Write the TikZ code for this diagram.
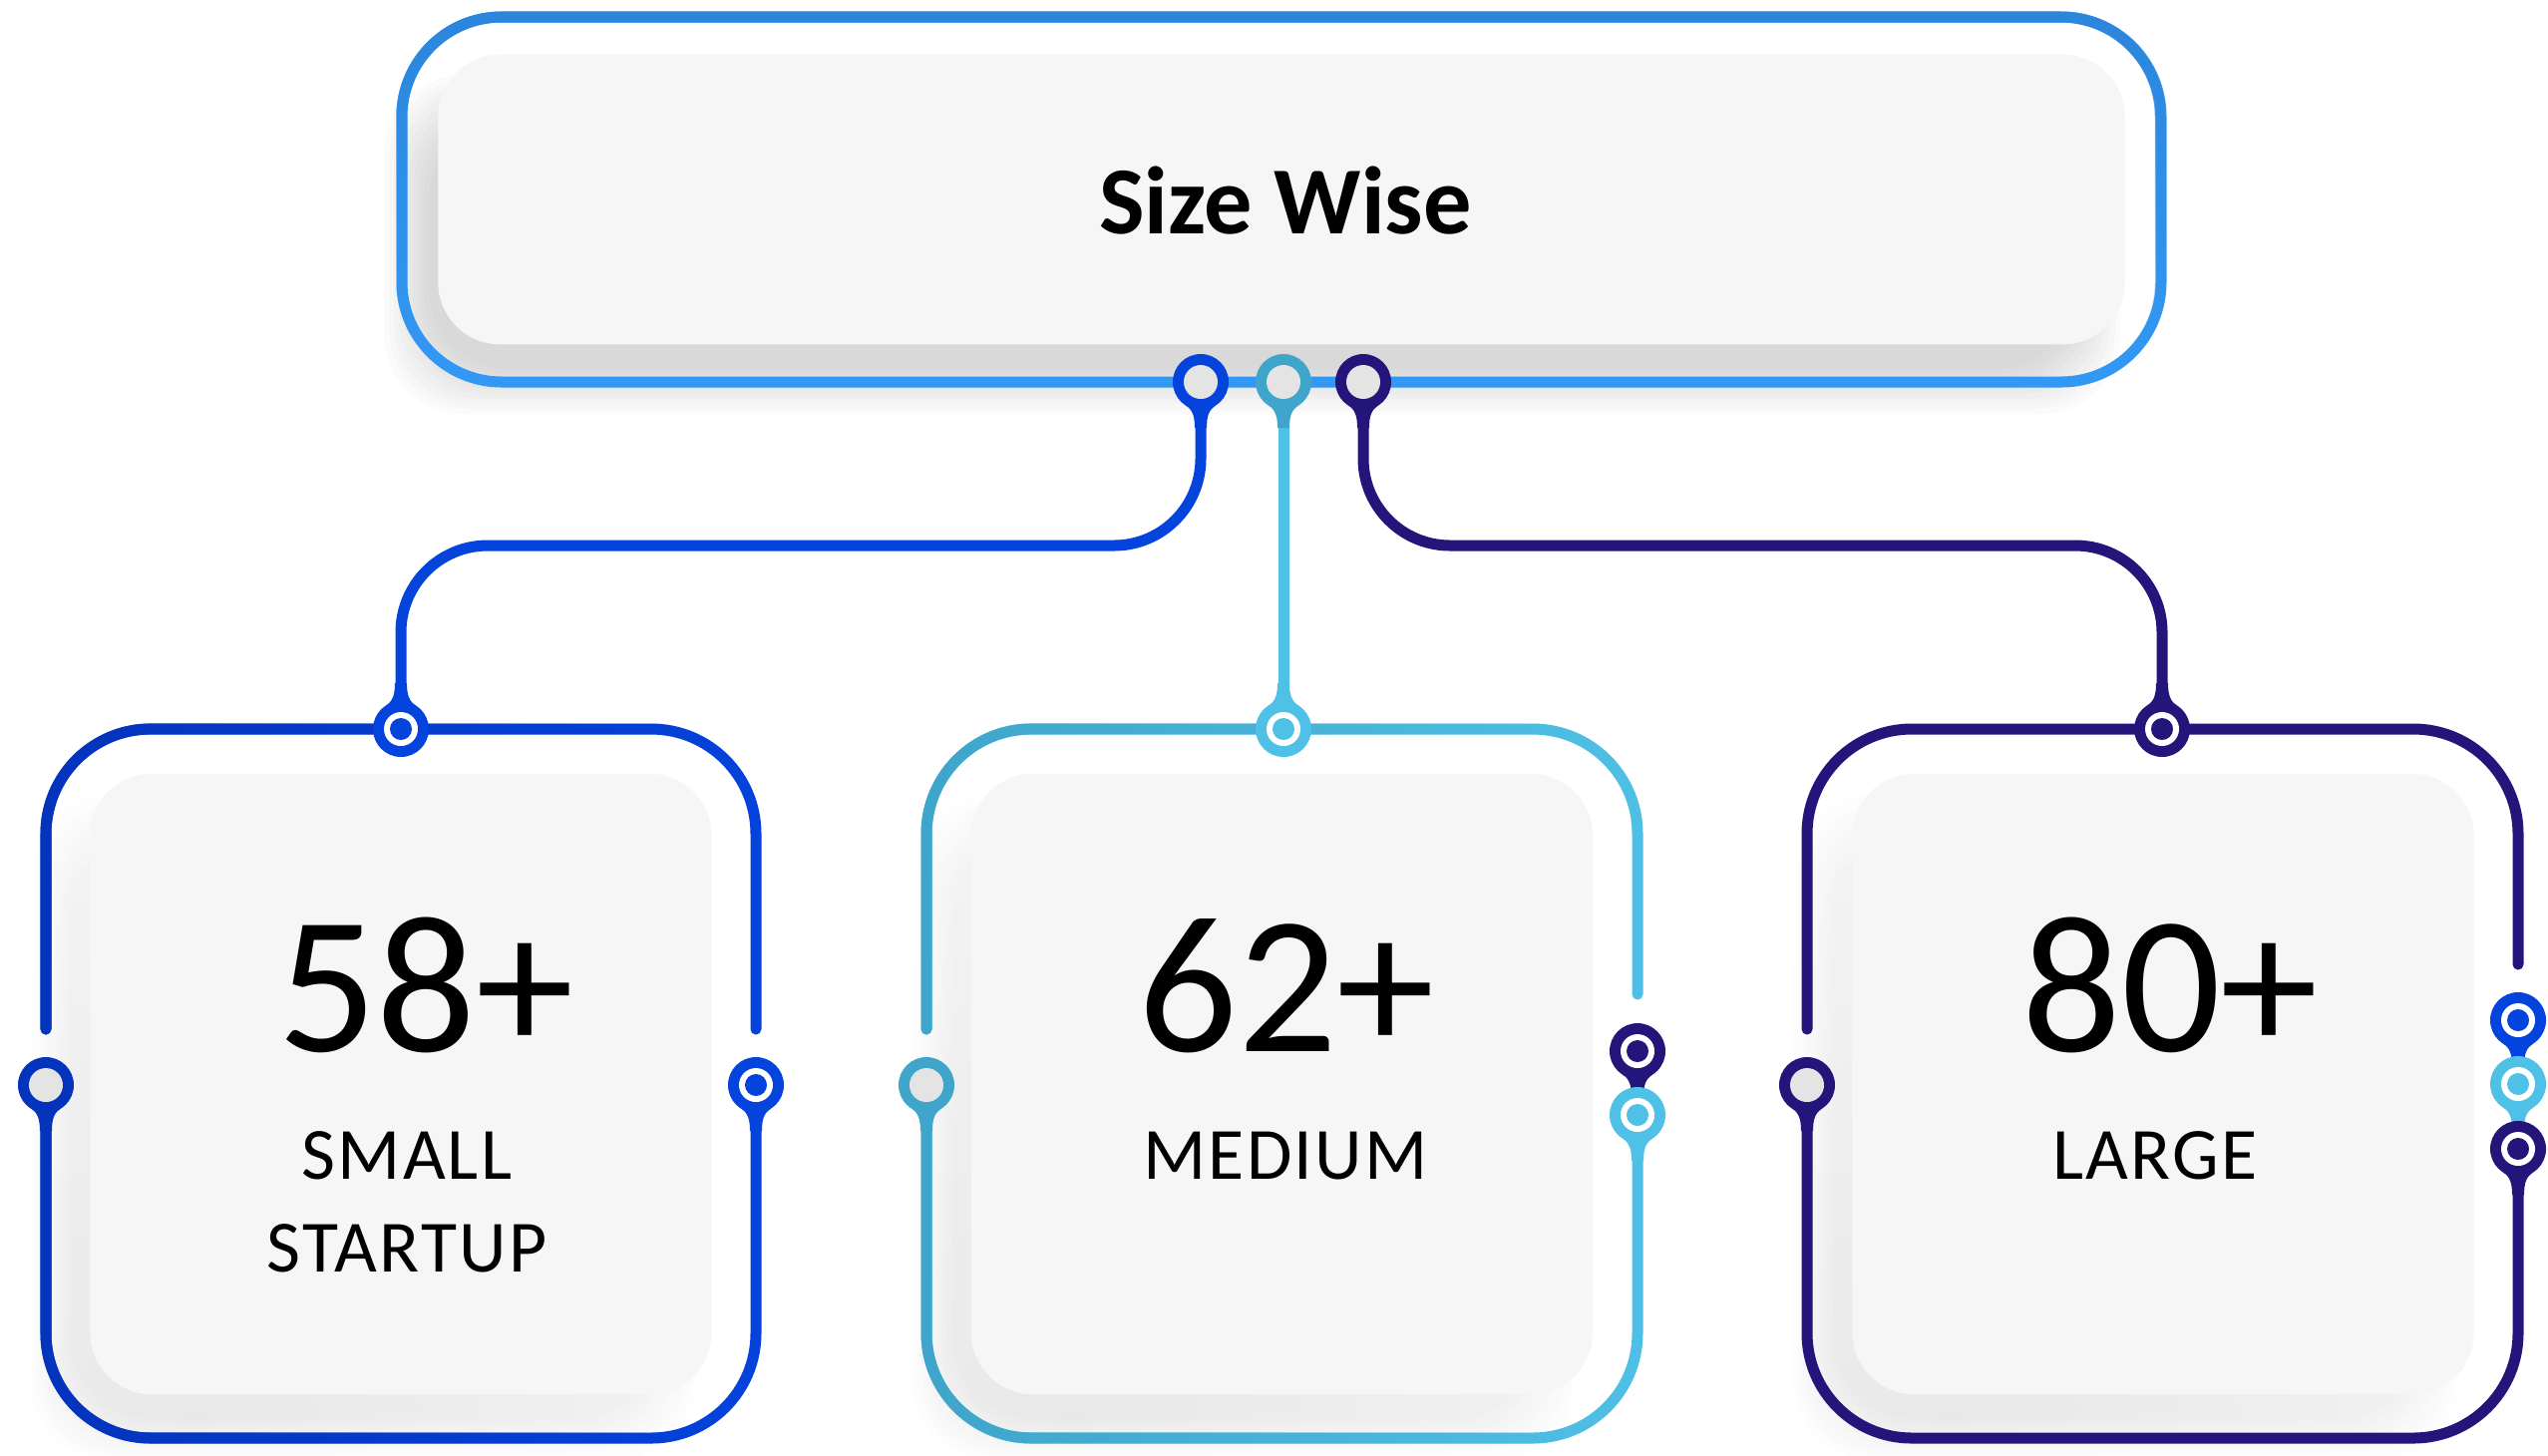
\documentclass[tikz,border=0pt]{standalone}
\usepackage{fontspec}
\setmainfont{Carlito}
\usetikzlibrary{fadings}

\definecolor{topblue}{HTML}{3399F5}
\definecolor{topblueD}{HTML}{2C86DC}
\definecolor{cblue}{HTML}{0443DC}
\definecolor{cblueD}{HTML}{0434BC}
\definecolor{clight}{HTML}{4FC0E6}
\definecolor{clightD}{HTML}{40A5CB}
\definecolor{cdark}{HTML}{23157A}
\definecolor{cardgray}{HTML}{F6F6F6}
\definecolor{holegray}{HTML}{E4E4E4}

\tikzfading[name=fadeleft, left color=transparent!0, right color=transparent!100]
\tikzfading[name=fadeup, top color=transparent!0, bottom color=transparent!100]

\tikzset{
  frame/.style={line width=0.11cm, line cap=round, rounded corners=1.05cm},
  conn/.style={line width=0.11cm, rounded corners=0.87cm},
  card/.style={fill=cardgray, rounded corners=0.62cm, minimum width=6.23cm, minimum height=6.22cm, inner sep=0pt},
  headcard/.style={fill=cardgray, rounded corners=0.62cm, minimum width=16.9cm, minimum height=2.9cm, inner sep=0pt},
  bignum/.style={inner sep=0pt, anchor=base, font=\fontsize{56pt}{60pt}\selectfont},
  cattxt/.style={inner sep=0pt, anchor=base, font=\fontsize{21pt}{25pt}\selectfont\addfontfeature{LetterSpace=3}},
  headtxt/.style={inner sep=0pt, anchor=base, font=\bfseries\fontsize{27.4pt}{32pt}\selectfont},
  pics/ringpin/.style={code={
    \fill (0,0) circle (28);
    \fill (-15,23.6) .. controls (-8.3,27.8) and (-6,34) .. (-6,46) -- (6,46) .. controls (6,34) and (8.3,27.8) .. (15,23.6) -- cycle;
    \fill[holegray] (0,0) circle (17);
  }},
  pics/dotpin/.style={code={
    \fill (0,0) circle (28);
    \fill (-15,23.6) .. controls (-8.3,27.8) and (-6,34) .. (-6,46) -- (6,46) .. controls (6,34) and (8.3,27.8) .. (15,23.6) -- cycle;
    \fill[white] (0,0) circle (17);
    \fill (0,0) circle (11);
  }},
}

\begin{document}
\begin{tikzpicture}[x=0.01cm, y=-0.01cm]
			\useasboundingbox (0,0) rectangle (2555,1459);
			\coordinate (tp1) at (1204,383);
			\coordinate (tp2) at (1287,383);
			\coordinate (tp3) at (1367,383);
			\coordinate (lvl) at (1287,547);
			\coordinate (bp1) at (402,731);
			\coordinate (bp2) at (1287,731);
			\coordinate (bp3) at (2168,731);
			% shadows
			\foreach \k in {0,...,9}
				\fill[black, opacity=0.016, rounded corners=0.8cm] ({385+5*\k},{75+5*\k}) rectangle ({2126-5*\k},{415-5*\k});
			\foreach \cx in {402,1285.5,2169}
				\foreach \k [evaluate=\k as \dk using int(9*\k)] in {0,...,9} {
					\begin{scope}
						\clip[rounded corners=0.8cm] ({\cx-376.5+5*\k},{791+5*\k}) rectangle ({\cx+301.5-5*\k},{1468-5*\k});
						\shade[inner color=black!\dk, outer color=white] ({\cx-210},1440) circle (1200);
					\end{scope}
				}
			% cards
			\node[headcard] (head) at (1285,200) {};
			\node[card] (card1) at (402,1087) {};
			\node[card] (card2) at (1285.5,1087) {};
			\node[card] (card3) at (2169,1087) {};
			% top frame
			\draw[frame, topblue, rounded corners=1cm] (403,17) rectangle (2167,383);
			\draw[frame, topblueD, rounded corners=1cm, path fading=fadeup] (403,17) rectangle (2167,383);
			% frame of small startup
			\draw[frame, cblue] (46,1032) |- (758,731) -- (758,1032);
			\draw[frame, cblue] (758,1088) |- (46,1442) -- (46,1088);
			\draw[frame, cblueD, path fading=fadeleft] (46,1032) |- (758,731) -- (758,1032);
			\draw[frame, cblueD, path fading=fadeleft] (758,1088) |- (46,1442) -- (46,1088);
			% frame of medium
			\draw[frame, clight] (929,1032) |- (1642,731) -- (1642,997);
			\draw[frame, clight] (1642,1118) |- (929,1442) -- (929,1088);
			\draw[frame, clightD, path fading=fadeleft] (929,1032) |- (1642,731) -- (1642,997);
			\draw[frame, clightD, path fading=fadeleft] (1642,1118) |- (929,1442) -- (929,1088);
			% frame of large
			\draw[frame, cdark] (1812,1032) |- (2525,731) -- (2525,967);
			\draw[frame, cdark] (2525,1152) |- (1812,1442) -- (1812,1088);
			% connectors
			\draw[conn, cblue] (tp1) |- (bp1 |- lvl) -- (bp1);
			\draw[conn, clight] (tp2) -- (bp2);
			\draw[conn, cdark] (tp3) |- (bp3 |- lvl) -- (bp3);
			% pins
			\pic[cblue] at (tp1) {ringpin};
			\pic[clightD] at (tp2) {ringpin};
			\pic[cdark] at (tp3) {ringpin};
			\pic[cblue, rotate=180] at (bp1) {dotpin};
			\pic[clight, rotate=180] at (bp2) {dotpin};
			\pic[cdark, rotate=180] at (bp3) {dotpin};
			\pic[cblueD] at (46,1088) {ringpin};
			\pic[cblue] at (758,1088) {dotpin};
			\pic[clightD] at (929,1088) {ringpin};
			\pic[cdark] at (1642,1054) {dotpin};
			\pic[clight] at (1642,1118) {dotpin};
			\pic[cdark] at (1812,1088) {ringpin};
			\pic[cblue] at (2525,1023) {dotpin};
			\pic[clight] at (2525,1087) {dotpin};
			\pic[cdark] at (2525,1152) {dotpin};
			% texts
			\node[headtxt] (title) at (1289,234) {Size Wise};
			\node[bignum] (num1) at (427,1054) {58+};
			\node[cattxt] (cat1a) at (408,1182) {SMALL};
			\node[cattxt] (cat1b) at (408,1275) {STARTUP};
			\node[bignum] (num2) at (1290,1054) {62+};
			\node[cattxt] (cat2) at (1289,1182) {MEDIUM};
			\node[bignum] (num3) at (2176,1054) {80+};
			\node[cattxt] (cat3) at (2161,1182) {LARGE};
\end{tikzpicture}
\end{document}
